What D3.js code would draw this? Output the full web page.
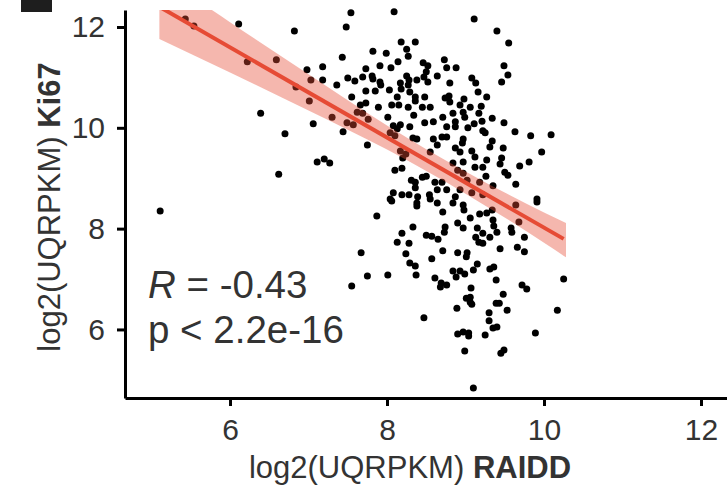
<!DOCTYPE html>
<html>
<head>
<meta charset="utf-8">
<script src="https://cdn.jsdelivr.net/npm/d3@7"></script>
<style>
  html, body { margin: 0; padding: 0; background: #ffffff; }
  svg { display: block; font-family: "Liberation Sans", Arial, Helvetica, sans-serif; }
</style>
</head>
<body>
<svg id="chart" width="727" height="489"></svg>
<script>
// ---- data ----
const raiddVals = [
  5.11,5.43,5.54,6.11,6.22,6.59,6.82,6.39,6.62,6.70,6.84,
  7.54,8.09,7.48,8.18,8.36,8.25,7.82,7.99,7.43,8.27,8.14,8.46,7.91,8.05,8.52,7.18,6.98,7.73,8.50,8.64,7.18,7.03,7.50,7.59,7.69,7.81,7.82,7.91,7.92,7.36,8.17,8.25,8.28,8.27,8.38,8.47,8.52,8.18,8.29,7.73,7.85,8.03,7.55,8.13,8.36,8.48,
  9.11,9.40,9.55,8.73,8.76,8.88,9.49,9.54,9.46,9.08,9.13,8.80,9.16,9.27,8.79,8.98,8.74,
  7.01,7.06,7.30,7.49,7.44,7.57,7.62,7.69,7.76,7.66,7.73,7.89,8.01,8.06,8.15,8.27,8.36,8.45,8.55,8.34,8.48,8.59,8.08,8.17,8.13,8.29,8.04,8.10,8.33,8.38,8.59,7.75,8.64,8.17,8.24,8.20,8.55,7.11,7.20,7.27,8.10,8.19,8.31,8.36,8.45,8.50,8.61,8.36,8.64,8.08,8.19,8.28,8.39,8.54,8.04,8.55,
  8.80,8.93,9.06,9.20,8.84,8.97,9.17,8.71,8.99,8.87,8.76,8.87,9.03,9.11,9.21,9.34,9.49,9.22,9.25,9.63,9.83,10.09,8.70,8.76,8.97,8.96,9.34,9.31,9.48,8.87,9.08,8.93,9.12,9.27,9.46,9.97,9.81,9.69,9.44,8.84,8.97,9.12,9.22,8.90,8.97,9.50,9.54,9.26,9.18,9.02,8.70,9.35,9.64,8.76,8.93,9.08,9.22,8.87,9.91,
  8.06,8.38,8.38,8.64,7.87,8.33,8.19,8.50,8.57,8.65,8.13,8.28,7.67,8.24,8.57,8.29,8.36,7.75,8.01,8.37,8.61,7.55,8.68,
  8.84,8.97,8.98,8.71,9.18,9.27,9.34,9.06,8.90,8.97,9.35,9.36,9.40,9.15,8.74,8.73,9.58,9.59,9.31,9.22,9.13,9.17,9.22,9.75,9.91,9.64,9.68,9.44,9.66,9.75,8.71,8.90,9.02,9.01,9.15,9.10,8.84,8.93,8.88,8.99,9.31,9.36,9.39,8.76,8.69,9.07,9.72,9.78,10.25,9.48,9.06,9.01,
  8.47,
  8.89,9.06,9.08,9.39,9.43,9.53,10.17,9.30,9.30,9.35,9.40,8.90,8.97,9.04,9.04,9.25,9.89,8.99,9.45,9.49,9.10
];
const ki67Vals = [
  8.35,12.16,12.02,12.06,11.31,11.35,11.92,10.29,9.08,9.88,10.81,
  12.28,12.30,12.00,11.70,11.70,11.56,11.52,11.48,11.40,11.42,11.31,11.29,11.23,11.19,11.23,11.21,11.15,11.17,11.11,11.03,10.95,10.95,10.99,10.93,11.01,11.03,10.97,10.91,10.85,10.85,10.89,11.03,10.95,10.85,10.95,11.01,10.91,10.77,10.71,10.73,10.73,10.75,10.61,10.61,10.61,10.61,
  12.16,11.92,11.68,11.35,11.19,11.19,11.23,11.05,10.91,10.99,10.89,10.89,10.71,10.61,10.63,10.57,10.59,
  10.53,10.08,10.21,10.10,9.92,10.06,10.31,10.29,10.17,10.45,10.49,10.41,10.21,10.45,10.45,10.41,10.53,10.41,10.41,10.25,10.10,10.12,10.04,10.06,9.98,10.02,9.90,9.84,9.80,9.78,9.78,9.66,9.66,9.54,9.48,9.40,9.52,9.32,9.38,9.30,9.16,9.20,8.96,8.92,9.02,9.04,8.92,8.81,8.77,8.71,8.67,8.67,8.63,8.67,8.59,8.59,
  10.51,10.45,10.41,10.43,10.29,10.31,10.29,10.21,10.21,10.12,10.02,10.02,10.00,10.08,10.13,10.19,10.10,9.94,9.90,9.92,9.84,9.86,9.82,9.82,9.78,9.70,9.74,9.62,9.60,9.60,9.54,9.52,9.42,9.36,9.40,9.52,9.32,9.24,9.28,9.30,9.32,9.22,9.22,9.16,9.10,9.12,9.06,9.04,8.92,8.96,8.92,8.85,8.88,8.77,8.77,8.71,8.67,8.63,8.59,
  8.55,8.51,8.45,8.51,8.25,8.03,7.91,7.87,7.85,7.79,7.73,7.71,7.52,7.50,7.40,7.32,7.26,7.06,7.08,7.08,7.02,6.86,6.84,
  8.51,8.47,8.37,8.33,8.29,8.31,8.37,8.21,8.11,8.01,8.17,8.05,7.93,8.01,8.03,7.93,8.01,7.93,7.83,7.91,7.83,7.73,7.71,7.83,8.53,8.47,8.13,7.60,7.63,7.54,7.56,7.52,7.52,7.44,7.30,7.18,7.16,7.16,7.04,7.10,7.20,7.24,6.98,6.88,6.92,6.82,6.88,6.80,7.00,6.70,6.64,6.62,
  6.23,
  6.42,6.54,6.50,6.52,6.52,6.38,6.38,6.33,6.17,6.03,6.05,5.91,5.95,5.93,5.87,5.89,5.93,5.57,5.53,5.59,4.84
];
const xTicks = [6, 8, 10, 12];
const yTicks = [6, 8, 10, 12];
// linear fit
const fitIntercept = 16.96;
const fitSlope = -0.894;
// confidence band half-widths read at a few x positions
const bandX    = [5.10, 6.00, 7.00, 8.00, 9.00, 10.00, 10.28];
const bandHalf = [0.64, 0.50, 0.36, 0.24, 0.22, 0.30, 0.34];
const statR = "-0.43";
const statP = "p < 2.2e-16";
const xTitle = "log2(UQRPKM) ";
const xTitleBold = "RAIDD";
const yTitle = "log2(UQRPKM) ";
const yTitleBold = "Ki67";

// ---- drawing ----
const svg = d3.select("#chart");
const fitColor = "#E64B35";
const textColor = "#333333";

const x = d3.scaleLinear().domain([4.662, 12.331]).range([125, 727]);
const y = d3.scaleLinear().domain([4.64, 12.337]).range([398, 10]);

svg.append("rect").attr("x", 21).attr("y", 0).attr("width", 31).attr("height", 12).attr("fill", "#1e1e1e");

svg.append("defs").append("clipPath").attr("id", "panel")
  .append("rect").attr("x", 125).attr("y", 10).attr("width", 602).attr("height", 388);

const pts = raiddVals.map((v, i) => ({x: v, y: ki67Vals[i]}));

svg.append("g").selectAll("circle").data(pts).join("circle")
  .attr("cx", d => x(d.x)).attr("cy", d => y(d.y)).attr("r", 3.5).attr("fill", "#000");

const bandData = bandX.map((v, i) => ({x: v, fit: fitIntercept + fitSlope * v, h: bandHalf[i]}));
const area = d3.area().curve(d3.curveMonotoneX)
  .x(d => x(d.x)).y0(d => y(d.fit - d.h)).y1(d => y(d.fit + d.h));

const fitG = svg.append("g").attr("clip-path", "url(#panel)");
fitG.append("path").datum(bandData).attr("d", area).attr("fill", fitColor).attr("fill-opacity", 0.4);

const xMin = d3.min(raiddVals), xMax = d3.max(raiddVals);
const lineData = [xMin, xMax].map(v => ({x: v, y: fitIntercept + fitSlope * v}));
fitG.append("path").datum(lineData)
  .attr("d", d3.line().x(d => x(d.x)).y(d => y(d.y)))
  .attr("stroke", fitColor).attr("stroke-width", 4).attr("fill", "none");

// axes
const xAxis = svg.append("g").attr("transform", "translate(0,398)")
  .call(d3.axisBottom(x).tickValues(xTicks).tickFormat(d3.format("d")).tickSize(8).tickSizeOuter(0).tickPadding(13));
const yAxis = svg.append("g").attr("transform", "translate(125,0)")
  .call(d3.axisLeft(y).tickValues(yTicks).tickFormat(d3.format("d")).tickSize(8).tickSizeOuter(0).tickPadding(12));

[xAxis, yAxis].forEach(g => {
  g.select(".domain").attr("stroke", "#000").attr("stroke-width", 3);
  g.selectAll(".tick line").attr("stroke", "#000").attr("stroke-width", 3);
  g.selectAll(".tick text").attr("fill", textColor).attr("font-size", 30)
    .attr("font-family", "'Liberation Sans', Arial, sans-serif");
});

// axis titles
const xt = svg.append("text").attr("x", 410).attr("y", 478).attr("text-anchor", "middle")
  .attr("font-size", 31).attr("fill", textColor);
xt.append("tspan").text(xTitle);
xt.append("tspan").attr("font-weight", "bold").text(xTitleBold);

const yt = svg.append("text").attr("transform", "translate(60,207) rotate(-90)").attr("text-anchor", "middle")
  .attr("font-size", 31).attr("fill", textColor);
yt.append("tspan").text(yTitle);
yt.append("tspan").attr("font-weight", "bold").text(yTitleBold);

// stats annotation
const st = svg.append("text").attr("x", 148).attr("y", 298).attr("font-size", 38.5).attr("fill", textColor);
st.append("tspan").attr("font-style", "italic").text("R");
st.append("tspan").text(" = " + statR);
svg.append("text").attr("x", 148).attr("y", 343).attr("font-size", 38.5).attr("fill", textColor).text(statP);
</script>
</body>
</html>
